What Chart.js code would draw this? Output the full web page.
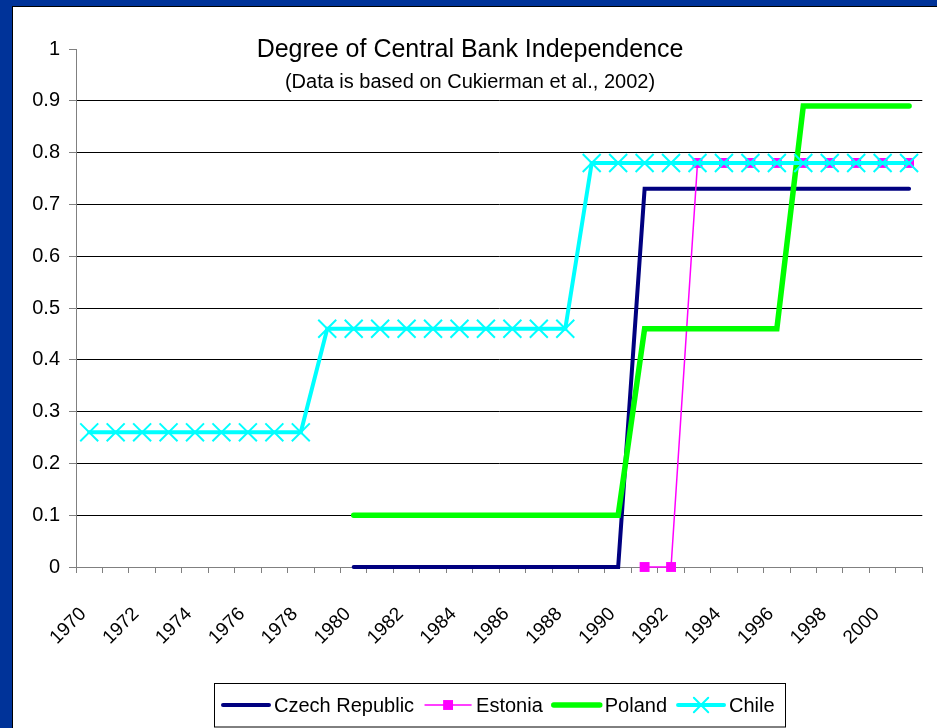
<!DOCTYPE html>
<html>
<head>
<meta charset="utf-8">
<title>Degree of Central Bank Independence</title>
<script src="https://cdn.jsdelivr.net/npm/chart.js@4.4.1/dist/chart.umd.min.js"></script>
<style>
  html, body { margin: 0; padding: 0; background: #003399; overflow: hidden; }
  #frame {
    position: absolute; left: 12px; top: 6px;
    width: 924px; height: 721px;
    background: #fff;
    border-top: 1px solid #000; border-left: 1px solid #000;
  }
  canvas { display: block; }
</style>
</head>
<body>
<div id="frame"><canvas id="cbiChart" width="924" height="721"></canvas></div>
<script>
// 年份（类目轴）
const years = ['1970', '1971', '1972', '1973', '1974', '1975', '1976', '1977',
  '1978', '1979', '1980', '1981', '1982', '1983', '1984', '1985',
  '1986', '1987', '1988', '1989', '1990', '1991', '1992', '1993',
  '1994', '1995', '1996', '1997', '1998', '1999', '2000', '2001'];

// 各国央行独立性指数
const czech = [null, null, null, null, null, null, null, null, null, null,
  0, 0, 0, 0, 0, 0, 0, 0, 0, 0, 0,
  0.73, 0.73, 0.73, 0.73, 0.73, 0.73, 0.73, 0.73, 0.73, 0.73, 0.73];
const estonia = [null, null, null, null, null, null, null, null, null, null,
  null, null, null, null, null, null, null, null, null, null, null,
  0, 0,
  0.78, 0.78, 0.78, 0.78, 0.78, 0.78, 0.78, 0.78, 0.78];
const poland = [null, null, null, null, null, null, null, null, null, null,
  0.1, 0.1, 0.1, 0.1, 0.1, 0.1, 0.1, 0.1, 0.1, 0.1, 0.1,
  0.46, 0.46, 0.46, 0.46, 0.46, 0.46,
  0.89, 0.89, 0.89, 0.89, 0.89];
const chile = [0.26, 0.26, 0.26, 0.26, 0.26, 0.26, 0.26, 0.26, 0.26,
  0.46, 0.46, 0.46, 0.46, 0.46, 0.46, 0.46, 0.46, 0.46, 0.46,
  0.78, 0.78, 0.78, 0.78, 0.78, 0.78, 0.78, 0.78, 0.78, 0.78, 0.78, 0.78, 0.78];

const seriesNames = ['Czech Republic', 'Estonia', 'Poland', 'Chile'];
const titleText = 'Degree of Central Bank Independence';
const subtitleText = '(Data is based on Cukierman et al., 2002)';

const FONT = '"Liberation Sans", Arial, sans-serif';

// 标题和副标题叠在绘图区上方
const titleBlock = {
  id: 'titleBlock',
  afterDraw(chart) {
    const ctx = chart.ctx;
    const cx = chart.width / 2 - 5;
    ctx.save();
    ctx.fillStyle = '#000';
    ctx.textAlign = 'center';
    ctx.textBaseline = 'alphabetic';
    ctx.font = `25px ${FONT}`;
    ctx.fillText(titleText, cx, 50);
    ctx.font = `20px ${FONT}`;
    ctx.fillText(subtitleText, cx, 81);
    ctx.restore();
  }
};

// 图例标记
const drawMarker = (ctx, ds, x, y) => {
  if (!ds.pointRadius) return;
  if (ds.pointStyle === 'rect') {
    const half = ds.pointRadius * Math.SQRT1_2;
    ctx.fillStyle = ds.pointBackgroundColor;
    ctx.fillRect(x - half, y - half, half * 2, half * 2);
  } else if (ds.pointStyle === 'crossRot') {
    const d = ds.pointRadius * Math.SQRT1_2 * 0.8;
    ctx.strokeStyle = ds.pointBorderColor;
    ctx.lineWidth = ds.pointBorderWidth;
    ctx.beginPath();
    ctx.moveTo(x - d, y - d); ctx.lineTo(x + d, y + d);
    ctx.moveTo(x + d, y - d); ctx.lineTo(x - d, y + d);
    ctx.stroke();
  }
};

// 底部带边框的图例
const legendBox = {
  id: 'legendBox',
  afterDraw(chart) {
    const ctx = chart.ctx;
    const items = chart.data.datasets;
    const sample = 46, gap = 5, spacing = 11, padL = 9, padR = 10;
    ctx.save();
    ctx.font = `20px ${FONT}`;
    const widths = items.map(ds => ctx.measureText(ds.label).width);
    const total = padL + padR + spacing * (items.length - 1) +
      widths.reduce((s, w) => s + sample + gap + w, 0);
    const cx = (chart.chartArea.left + chart.chartArea.right) / 2;
    const left = Math.round(cx - total / 2);
    const top = 676, bottom = chart.height - 1, midY = 698;

    ctx.strokeStyle = '#000';
    ctx.lineWidth = 1;
    ctx.strokeRect(left + 0.5, top + 0.5, Math.round(total), bottom - top - 0.5);

    let x = left + padL;
    items.forEach((ds, i) => {
      ctx.strokeStyle = ds.borderColor;
      ctx.lineWidth = ds.borderWidth;
      ctx.lineCap = 'round';
      ctx.beginPath();
      ctx.moveTo(x, midY);
      ctx.lineTo(x + sample, midY);
      ctx.stroke();
      drawMarker(ctx, ds, x + sample / 2, midY);

      ctx.fillStyle = '#000';
      ctx.textAlign = 'left';
      ctx.textBaseline = 'middle';
      ctx.fillText(ds.label, x + sample + gap, midY + 1);
      x += sample + gap + widths[i] + spacing;
    });
    ctx.restore();
  }
};

const makeSeries = (label, data, style) => Object.assign({
  label,
  data,
  tension: 0,
  spanGaps: false,
  clip: false,
  borderCapStyle: 'round',
  borderJoinStyle: 'miter',
  pointRadius: 0,
  pointHoverRadius: 0
}, style);

const datasets = [
  makeSeries(seriesNames[0], czech, { borderColor: '#000080', borderWidth: 4, order: 4 }),
  makeSeries(seriesNames[1], estonia, {
    borderColor: '#ff00ff', borderWidth: 1.5, order: 3,
    pointStyle: 'rect', pointRadius: 7, pointBorderWidth: 0,
    pointBackgroundColor: '#ff00ff', pointBorderColor: '#ff00ff'
  }),
  makeSeries(seriesNames[2], poland, { borderColor: '#00ff00', borderWidth: 5.5, order: 2 }),
  makeSeries(seriesNames[3], chile, {
    borderColor: '#00ffff', borderWidth: 4, order: 1,
    pointStyle: 'crossRot', pointRadius: 12.7, pointBorderWidth: 2,
    pointBackgroundColor: '#00ffff', pointBorderColor: '#00ffff'
  })
];

new Chart(document.getElementById('cbiChart'), {
  type: 'line',
  data: { labels: years, datasets },
  options: {
    responsive: false,
    animation: false,
    events: [],
    devicePixelRatio: 1,
    layout: { padding: { top: 42, right: 13, bottom: 0, left: 0 } },
    plugins: {
      legend: { display: false },
      title: { display: false },
      tooltip: { enabled: false }
    },
    scales: {
      x: {
        type: 'category',
        offset: true,
        grid: { offset: true, drawOnChartArea: false, color: '#808080', tickLength: 6 },
        border: { color: '#808080', width: 1 },
        ticks: {
          autoSkip: false,
          minRotation: 45,
          maxRotation: 45,
          padding: 30,
          labelOffset: -6,
          color: '#000',
          font: { family: FONT, size: 19 },
          callback(value, index) {
            return index % 2 === 0 ? this.getLabelForValue(value) : '';
          }
        },
        afterFit: scale => {
          // 旋转标签不额外占用左右边距
          scale.height = 161;
          scale.paddingLeft = 0;
          scale.paddingRight = 0;
        }
      },
      y: {
        min: 0,
        max: 1,
        grid: {
          color: c => (c.tick && (c.tick.value === 0 || c.tick.value === 1)) ? 'rgba(0,0,0,0)' : '#000',
          tickColor: '#808080',
          tickLength: 7,
          lineWidth: 1
        },
        border: { color: '#808080', width: 1 },
        ticks: {
          stepSize: 0.1,
          padding: 9,
          color: '#000',
          font: { family: FONT, size: 20 },
          callback: v => String(Math.round(v * 10) / 10)
        },
        afterFit: scale => { scale.width = 63; }
      }
    }
  },
  plugins: [titleBlock, legendBox]
});
</script>
</body>
</html>
